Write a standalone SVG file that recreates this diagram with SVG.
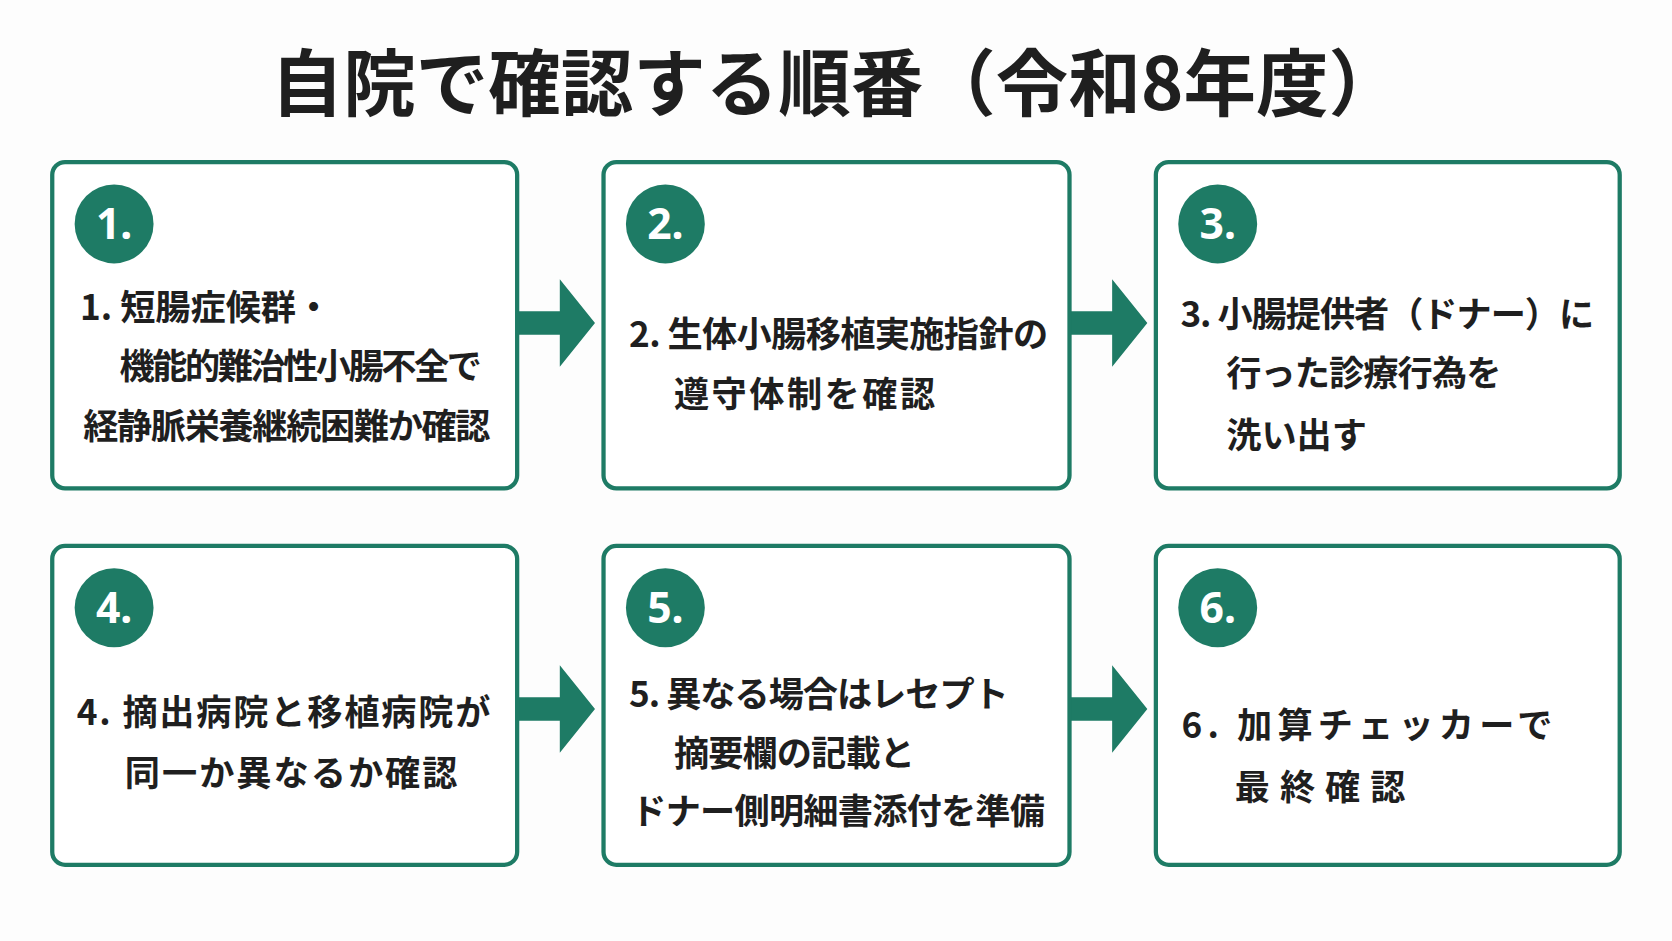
<svg xmlns="http://www.w3.org/2000/svg" width="1672" height="941" viewBox="0 0 1672 941">
<defs><style>
.bx{fill:#fff;stroke:#1e7b65;stroke-width:4}
.c{fill:#1e7b65}
.n{font-family:"Noto Sans","Noto Sans CJK JP",sans-serif;font-weight:700;font-size:40px;fill:#fff;text-anchor:middle}
.t{font-family:"Noto Sans CJK JP",sans-serif;font-weight:700;font-size:33px;fill:#1f1f1f}
.ar{fill:#1e7b65}
</style></defs>
<rect width="1672" height="941" fill="#fdfdfd"/>
<g transform="scale(1.0663)">
<text x="784" y="103" text-anchor="middle" font-family="Noto Sans CJK JP,sans-serif" font-weight="700" font-size="68" fill="#1f1f1f">自院で確認する順番（令和8年度）</text>
<g id="connectors">
<path class="ar" d="M485,292h40v-30l33,41l-33,41v-30h-40z"/>
<path class="ar" d="M1003,292h40v-30l33,41l-33,41v-30h-40z"/>
<path class="ar" d="M485,654h40v-30l33,41l-33,41v-30h-40z"/>
<path class="ar" d="M1003,654h40v-30l33,41l-33,41v-30h-40z"/>
</g>
<g id="n1"><rect class="bx" x="49" y="152" width="436" height="306" rx="12"/><circle class="c" cx="107" cy="210" r="37"/><text class="n" x="107" y="224">1.</text>
<text class="t" x="75" y="300">1. 短腸症候群・</text><text class="t" x="112" y="355" textLength="340">機能的難治性小腸不全で</text><text class="t" x="78" y="412" textLength="382">経静脈栄養継続困難か確認</text></g>
<g id="n2"><rect class="bx" x="566" y="152" width="437" height="306" rx="12"/><circle class="c" cx="624" cy="210" r="37"/><text class="n" x="624" y="224">2.</text>
<text class="t" x="590" y="325" textLength="393">2. 生体小腸移植実施指針の</text><text class="t" x="632" y="382" textLength="245">遵守体制を確認</text></g>
<g id="n3"><rect class="bx" x="1084" y="152" width="435" height="306" rx="12"/><circle class="c" cx="1142" cy="210" r="37"/><text class="n" x="1142" y="224">3.</text>
<text class="t" x="1107" y="307" textLength="388">3. 小腸提供者（ドナー）に</text><text class="t" x="1150" y="362" textLength="258">行った診療行為を</text><text class="t" x="1150" y="420">洗い出す</text></g>
<g id="n4"><rect class="bx" x="49" y="512" width="436" height="299" rx="12"/><circle class="c" cx="107" cy="570" r="37"/><text class="n" x="107" y="584">4.</text>
<text class="t" x="72" y="680" textLength="388">4. 摘出病院と移植病院が</text><text class="t" x="117" y="737" textLength="312">同一か異なるか確認</text></g>
<g id="n5"><rect class="bx" x="566" y="512" width="437" height="299" rx="12"/><circle class="c" cx="624" cy="570" r="37"/><text class="n" x="624" y="584">5.</text>
<text class="t" x="590" y="663" textLength="356">5. 異なる場合はレセプト</text><text class="t" x="632" y="718" textLength="226">摘要欄の記載と</text><text class="t" x="592" y="773" textLength="388">ドナー側明細書添付を準備</text></g>
<g id="n6"><rect class="bx" x="1084" y="512" width="435" height="299" rx="12"/><circle class="c" cx="1142" cy="570" r="37"/><text class="n" x="1142" y="584">6.</text>
<text class="t" x="1108" y="692" textLength="348">6. 加算チェッカーで</text><text class="t" x="1158" y="750" textLength="160">最終確認</text></g>
</g>
</svg>
